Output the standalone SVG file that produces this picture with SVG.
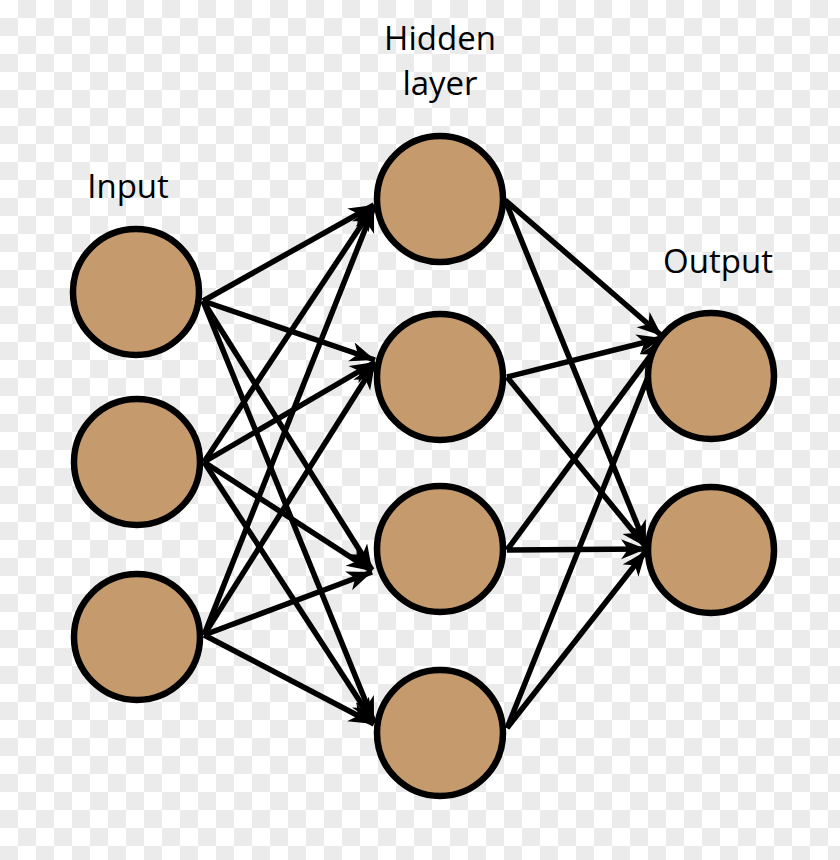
<svg xmlns="http://www.w3.org/2000/svg" width="840" height="860" viewBox="0 0 840 860">
<style>
.node{fill:#c59a6d;stroke:#000;stroke-width:6.5}
.lbl{font-family:"Open Sans","Liberation Sans",sans-serif;font-size:33px;fill:#000;text-anchor:middle}
.edge{stroke:#000;stroke-width:5.5;fill:none;marker-end:url(#ah)}
</style>
<defs>
<pattern id="chk" x="0" y="0" width="36" height="36" patternUnits="userSpaceOnUse">
<rect width="36" height="36" fill="#ffffff"/>
<rect x="18" y="0" width="18" height="18" fill="#ebebeb"/>
<rect x="0" y="18" width="18" height="18" fill="#ebebeb"/>
</pattern>
<marker id="ah" markerUnits="userSpaceOnUse" markerWidth="30" markerHeight="24" refX="25" refY="10" orient="auto">
<path d="M0,0 L25,10 L0,20 L7,10 z" fill="#000"/>
</marker>
</defs>
<rect width="840" height="860" fill="url(#chk)"/>
<g id="connectors">
<line class="edge" x1="203" y1="301" x2="374" y2="205"/>
<line class="edge" x1="203" y1="301" x2="375" y2="360"/>
<line class="edge" x1="203" y1="301" x2="372" y2="570"/>
<line class="edge" x1="203" y1="301" x2="374" y2="722"/>
<line class="edge" x1="204" y1="462" x2="374" y2="206"/>
<line class="edge" x1="204" y1="462" x2="375" y2="362"/>
<line class="edge" x1="204" y1="462" x2="372" y2="571"/>
<line class="edge" x1="204" y1="462" x2="374" y2="723"/>
<line class="edge" x1="204" y1="635" x2="374" y2="207"/>
<line class="edge" x1="204" y1="635" x2="375" y2="364"/>
<line class="edge" x1="204" y1="635" x2="372" y2="572"/>
<line class="edge" x1="204" y1="635" x2="374" y2="724"/>
<line class="edge" x1="505" y1="200" x2="662" y2="336"/>
<line class="edge" x1="505" y1="200" x2="646" y2="546"/>
<line class="edge" x1="507" y1="377" x2="662" y2="338"/>
<line class="edge" x1="507" y1="377" x2="646" y2="547"/>
<line class="edge" x1="507" y1="550" x2="662" y2="340"/>
<line class="edge" x1="507" y1="550" x2="646" y2="549"/>
<line class="edge" x1="507" y1="728" x2="662" y2="342"/>
<line class="edge" x1="507" y1="728" x2="646" y2="551"/>
</g>
<g id="in1"><circle class="node" cx="136" cy="292" r="63"/></g>
<g id="in2"><circle class="node" cx="137" cy="462" r="63"/></g>
<g id="in3"><circle class="node" cx="137" cy="637" r="63"/></g>
<g id="h1"><circle class="node" cx="440" cy="199" r="63"/></g>
<g id="h2"><circle class="node" cx="440" cy="377" r="63"/></g>
<g id="h3"><circle class="node" cx="440" cy="549" r="63"/></g>
<g id="h4"><circle class="node" cx="440" cy="733" r="63"/></g>
<g id="o1"><circle class="node" cx="711" cy="376" r="63"/></g>
<g id="o2"><circle class="node" cx="711" cy="550" r="63"/></g>
<g id="labels">
<text class="lbl" x="440" y="50">Hidden</text>
<text class="lbl" x="440" y="95">layer</text>
<text class="lbl" x="128" y="198">Input</text>
<text class="lbl" x="718" y="273">Output</text>
</g>
</svg>
